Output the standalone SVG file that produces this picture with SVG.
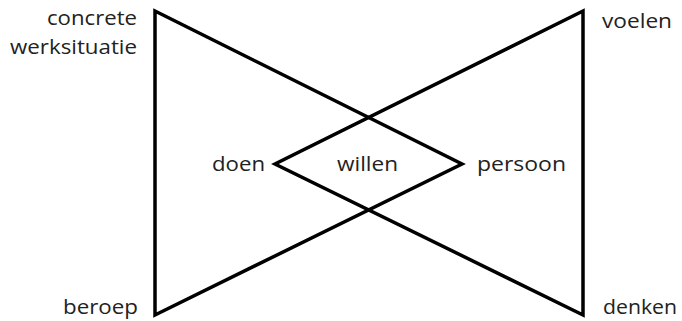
<svg xmlns="http://www.w3.org/2000/svg" width="682" height="321" viewBox="0 0 682 321">
<style>
.t{font-family:"Open Sans","Liberation Sans",sans-serif;font-size:20px;fill:#222}
.s{fill:none;stroke:#000;stroke-width:3.5;stroke-linejoin:miter}
</style>
<rect width="682" height="321" fill="#fff"/>
<g id="connectors">
<polygon class="s" points="155,11 155,315 462,164"/>
<polygon class="s" points="583,11 583,315 275,164"/>
</g>
<g id="concrete-werksituatie">
<text class="t" x="47" y="25" textLength="90" lengthAdjust="spacingAndGlyphs">concrete</text>
<text class="t" x="10" y="54" textLength="127" lengthAdjust="spacingAndGlyphs">werksituatie</text>
</g>
<g id="voelen"><text class="t" x="602" y="28" textLength="70" lengthAdjust="spacingAndGlyphs">voelen</text></g>
<g id="beroep"><text class="t" x="63" y="314" textLength="75" lengthAdjust="spacingAndGlyphs">beroep</text></g>
<g id="denken"><text class="t" x="603" y="314" textLength="74" lengthAdjust="spacingAndGlyphs">denken</text></g>
<g id="doen"><text class="t" x="212" y="171" textLength="53" lengthAdjust="spacingAndGlyphs">doen</text></g>
<g id="willen"><text class="t" x="337" y="171" textLength="61" lengthAdjust="spacingAndGlyphs">willen</text></g>
<g id="persoon"><text class="t" x="477" y="171" textLength="89" lengthAdjust="spacingAndGlyphs">persoon</text></g>
</svg>
